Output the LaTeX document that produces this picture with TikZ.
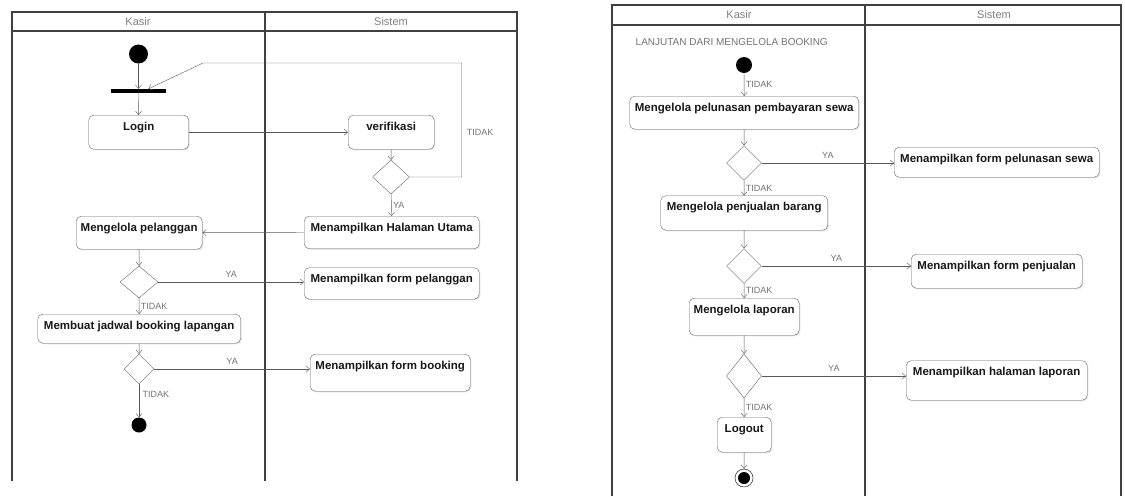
\documentclass[tikz,border=0pt]{standalone}
\usepackage{fontspec}
\setmainfont{Liberation Sans}
\usetikzlibrary{shapes.geometric,arrows.meta,shadows}
\tikzset{
    action-box/.style = {draw=gray!80!black, fill=white, rounded corners=5pt, anchor=north west, inner xsep=3pt, inner ysep=2pt, text height=13pt, text=black!90, font=\fontsize{11.5}{13}\selectfont\bfseries, drop shadow={shadow xshift=1.2pt, shadow yshift=-1.2pt, opacity=0.2}},
    decision/.style = {diamond, draw=gray!80!black, fill=white, inner sep=0pt},
    start-dot/.style = {circle, fill=black, inner sep=0pt},
    fork-bar/.style = {rectangle, fill=black, inner sep=0pt},
    flow/.style = {draw=gray!70!black, -{Straight Barb[length=3.5pt,width=6pt]}},
    lane/.style = {draw=black!75, line width=1.3pt},
    lane-title/.style = {text=gray, font=\fontsize{11}{13}\selectfont},
    guard/.style = {text=gray!90!black, font=\fontsize{9}{10}\selectfont, inner sep=1.5pt},
}

\begin{document}
\begin{tikzpicture}[x=1pt, y=-1pt]
\useasboundingbox (0,0) rectangle (1125,496);

% swimlanes (left)
\draw[lane] (12,481) -- (12,12) -- (517,12) -- (517,481);
\draw[lane] (12,31) -- (517,31);
\draw[lane, line width=1.8pt] (265,12) -- (265,481);
\node[lane-title] (kasir1) at (138,22) {Kasir};
\node[lane-title] (sistem1) at (391,22) {Sistem};

% swimlanes (right)
\draw[lane] (612,496) -- (612,5) -- (1121,5) -- (1121,496);
\draw[lane] (612,25) -- (1121,25);
\draw[lane] (865,5) -- (865,496);
\node[lane-title] (kasir2) at (739,15) {Kasir};
\node[lane-title] (sistem2) at (994,15) {Sistem};

% left activity
\node[start-dot, minimum size=19pt] (start) at (138.5,54) {};
\node[fork-bar, minimum width=55pt, minimum height=4pt] (bar) at (138.5,91) {};
\node[action-box, minimum width=100pt, text depth=17pt] (login) at (88.5,115) {Login};
\node[action-box, minimum width=86pt, text depth=17pt] (verif) at (348,115) {verifikasi};
\node[decision, minimum width=37pt, minimum height=34pt] (d1) at (391,177) {};
\node[action-box, minimum width=175pt, text depth=15.5pt] (hu) at (304,216) {Menampilkan Halaman Utama};
\node[action-box, minimum width=126pt, text depth=16pt] (mp) at (76,216) {Mengelola pelanggan};
\node[decision, minimum width=38pt, minimum height=32pt] (d2) at (139,282) {};
\node[action-box, minimum width=175pt, text depth=14.5pt] (fp) at (304,267.5) {Menampilkan form pelanggan};
\node[action-box, minimum width=203pt, text depth=12pt] (mj) at (37.5,314) {Membuat jadwal booking lapangan};
\node[decision, minimum width=30pt, minimum height=30pt] (d3) at (139,369) {};
\node[action-box, minimum width=160pt, text depth=20pt] (fb) at (310,354) {Menampilkan form booking};
\node[start-dot, minimum size=15pt] (stop) at (139,425) {};

\draw[flow] (start) -- (bar);
\draw[flow] (bar) -- (login);
\draw[flow] (login) -- (verif);
\draw[flow] (verif) -- (d1);
\draw[flow] (d1.east) -- ++(52,0) |- (203,63) -- ([xshift=10pt]bar.north);
\node[guard] (tidak0) at (480,132) {TIDAK};
\draw[flow] (d1) -- (hu) node[guard, midway, right] {YA};
\draw[flow] (hu) -- (mp);
\draw[flow] (mp) -- (d2);
\draw[flow] (d2) -- (fp.west |- d2) node[guard, midway, above=3pt] {YA};
\draw[flow] (d2) -- (mj) node[guard, midway, right] {TIDAK};
\draw[flow] (mj) -- (d3);
\draw[flow] (d3) -- (fb.west |- d3) node[guard, midway, above=3pt] {YA};
\draw[flow] (d3) -- (stop) node[guard, pos=0.3, right=2pt] {TIDAK};

% right activity
\node[guard, anchor=west, font=\fontsize{10}{11}\selectfont] (note) at (634,42) {LANJUTAN DARI MENGELOLA BOOKING};
\node[start-dot, minimum size=16pt] (start2) at (744,65) {};
\node[action-box, minimum width=229pt, text depth=16pt] (p1) at (629.5,96) {Mengelola pelunasan pembayaran sewa};
\node[decision, minimum width=35pt, minimum height=35pt] (d4) at (744,163) {};
\node[action-box, minimum width=205pt, text depth=13pt] (fps) at (894,147) {Menampilkan form pelunasan sewa};
\node[action-box, minimum width=167pt, text depth=17.5pt] (p2) at (660.5,195.5) {Mengelola penjualan barang};
\node[decision, minimum width=35pt, minimum height=35pt] (d5) at (744,266) {};
\node[action-box, minimum width=171pt, text depth=17pt] (fj) at (911,254) {Menampilkan form penjualan};
\node[action-box, minimum width=110pt, text depth=20pt] (p3) at (689,298) {Mengelola laporan};
\node[decision, minimum width=35pt, minimum height=44pt] (d6) at (744,376) {};
\node[action-box, minimum width=181pt, text depth=22.5pt] (hl) at (906,360.5) {Menampilkan halaman laporan};
\node[action-box, minimum width=54pt, text depth=18pt] (logout) at (717,417) {Logout};
\node[circle, draw=black, fill=white, minimum size=18pt, inner sep=0pt] (final) at (744,478) {};
\node[start-dot, minimum size=12pt] (final-dot) at (final.center) {};

\draw[flow] (start2) -- (p1) node[guard, midway, right] {TIDAK};
\draw[flow] (p1) -- (d4);
\draw[flow] (d4) -- (fps.west |- d4) node[guard, midway, above=3pt] {YA};
\draw[flow] (d4) -- (p2) node[guard, midway, right] {TIDAK};
\draw[flow] (p2) -- (d5);
\draw[flow] (d5) -- (fj.west |- d5) node[guard, midway, above=3pt] {YA};
\draw[flow] (d5) -- (p3) node[guard, midway, right] {TIDAK};
\draw[flow] (p3) -- (d6);
\draw[flow] (d6) -- (hl.west |- d6) node[guard, midway, above=3pt] {YA};
\draw[flow] (d6) -- (logout) node[guard, midway, right] {TIDAK};
\draw[flow] (logout) -- (final);
\end{tikzpicture}
\end{document}
